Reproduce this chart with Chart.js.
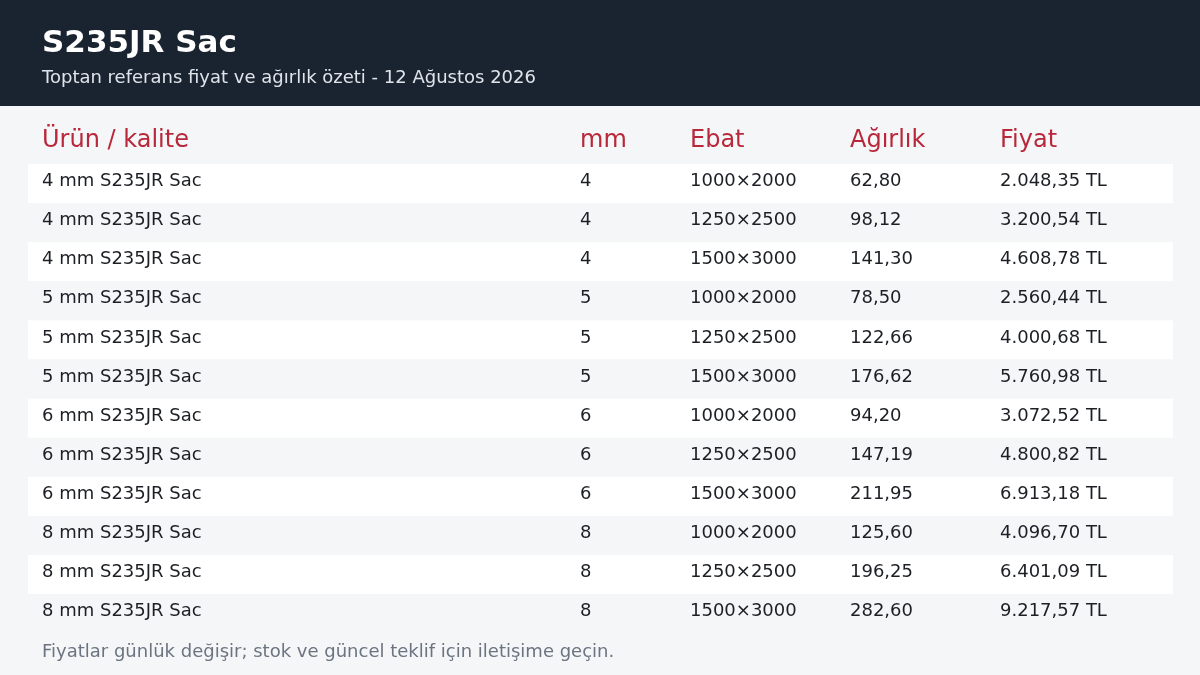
<!DOCTYPE html>
<html>
<head>
<meta charset="utf-8">
<script src="https://cdn.jsdelivr.net/npm/chart.js@4"></script>
<style>
  body { margin: 0; background: #f4f6f8; }
  canvas { display: block; }
</style>
</head>
<body>
<canvas id="tablo" width="1200" height="675"></canvas>
<script>
const baslik = "S235JR Sac";
const altBaslik = "Toptan referans fiyat ve ağırlık özeti - 12 Ağustos 2026";
const sutunlar = ["Ürün / kalite", "mm", "Ebat", "Ağırlık", "Fiyat"];
const urunler = ["4 mm S235JR Sac", "4 mm S235JR Sac", "4 mm S235JR Sac", "5 mm S235JR Sac", "5 mm S235JR Sac", "5 mm S235JR Sac",
  "6 mm S235JR Sac", "6 mm S235JR Sac", "6 mm S235JR Sac", "8 mm S235JR Sac", "8 mm S235JR Sac", "8 mm S235JR Sac"];
const kalinlik = ["4", "4", "4", "5", "5", "5", "6", "6", "6", "8", "8", "8"];
const ebatlar = ["1000×2000", "1250×2500", "1500×3000", "1000×2000", "1250×2500", "1500×3000",
  "1000×2000", "1250×2500", "1500×3000", "1000×2000", "1250×2500", "1500×3000"];
const agirlik = ["62,80", "98,12", "141,30", "78,50", "122,66", "176,62", "94,20", "147,19", "211,95", "125,60", "196,25", "282,60"];
const fiyat = ["2.048,35 TL", "3.200,54 TL", "4.608,78 TL", "2.560,44 TL", "4.000,68 TL", "5.760,98 TL",
  "3.072,52 TL", "4.800,82 TL", "6.913,18 TL", "4.096,70 TL", "6.401,09 TL", "9.217,57 TL"];
const dipnot = "Fiyatlar günlük değişir; stok ve güncel teklif için iletişime geçin.";

const sutunX = [42, 580, 690, 850, 1000];
const font = '"DejaVu Sans", sans-serif';

// tabloyu çizen eklenti
const tabloCiz = {
    id: "tabloCiz",
    afterDraw(chart) {
        const ctx = chart.ctx;
        ctx.save();
        ctx.fillStyle = "#f4f6f8";
        ctx.fillRect(0, 0, 1200, 675);
        ctx.fillStyle = "#1a2330";
        ctx.fillRect(0, 0, 1200, 106);

        ctx.textBaseline = "middle";
        ctx.fillStyle = "#ffffff";
        ctx.font = "bold 31px " + font;
        ctx.fillText(baslik, 42, 44);
        ctx.fillStyle = "#dfe4ea";
        ctx.font = "18px " + font;
        ctx.fillText(altBaslik, 42, 78);

        ctx.fillStyle = "#b8283a";
        ctx.font = "24px " + font;
        sutunlar.forEach((s, i) => ctx.fillText(s, sutunX[i], 141));

        const satirlar = [urunler, kalinlik, ebatlar, agirlik, fiyat];
        ctx.font = "18px " + font;
        urunler.forEach((u, r) => {
            const y = 164 + r * 39.1;
            if (r % 2 === 0) {
                ctx.fillStyle = "#ffffff";
                ctx.fillRect(28, y, 1145, 39);
            }
            ctx.fillStyle = "#1c1f24";
            satirlar.forEach((kol, i) => ctx.fillText(kol[r], sutunX[i], y + 17.5));
        });

        ctx.fillStyle = "#6b7480";
        ctx.font = "18px " + font;
        ctx.fillText(dipnot, 42, 652);
        ctx.restore();
    }
};

new Chart(document.getElementById("tablo"), {
    type: "bar",
    data: { labels: [], datasets: [] },
    options: {
        responsive: false,
        animation: false,
        plugins: { legend: { display: false }, tooltip: { enabled: false } },
        scales: { x: { display: false }, y: { display: false } }
    },
    plugins: [tabloCiz]
});
</script>
</body>
</html>
